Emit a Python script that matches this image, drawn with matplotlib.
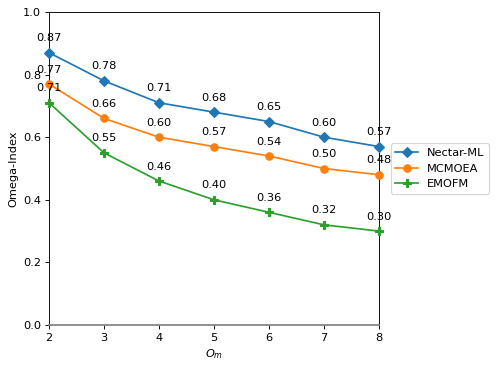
import matplotlib
matplotlib.use("Agg")
import matplotlib.pyplot as plt

om = [2, 3, 4, 5, 6, 7, 8]
nectar_ml = [0.87, 0.78, 0.71, 0.68, 0.65, 0.60, 0.57]
mcmoea = [0.77, 0.66, 0.60, 0.57, 0.54, 0.50, 0.48]
emofm = [0.71, 0.55, 0.46, 0.40, 0.36, 0.32, 0.30]

DPI = 82
fig = plt.figure(figsize=(499/DPI, 369/DPI), dpi=DPI)
ax = fig.add_axes([49/499, 1 - 325/369, 330/499, 313/369])

series = [("Nectar-ML", nectar_ml, "D", "#1f77b4"),
          ("MCMOEA", mcmoea, "o", "#ff7f0e"),
          ("EMOFM", emofm, "P", "#2ca02c")]
for name, vals, mk, c in series:
    ax.plot(om, vals, marker=mk, color=c, label=name, markersize=6.5, clip_on=False, zorder=3)
    for x, y in zip(om, vals):
        ax.annotate(f"{y:.2f}", (x, y), textcoords="offset points", xytext=(0, 10),
                    ha="center", zorder=10, annotation_clip=False)

ax.set_xlim(2, 8)
ax.set_ylim(0, 1.0)
ax.set_xticks(om)
ax.set_xlabel("$O_m$")
ax.set_ylabel("Omega-Index")
ax.spines["bottom"].set_color("gray")
ax.spines["bottom"].set_linewidth(1.5)
leg = ax.legend(loc="center left", bbox_to_anchor=(1.018, 0.5))
leg.set_zorder(5)

fig.savefig("out.png", dpi=DPI)
